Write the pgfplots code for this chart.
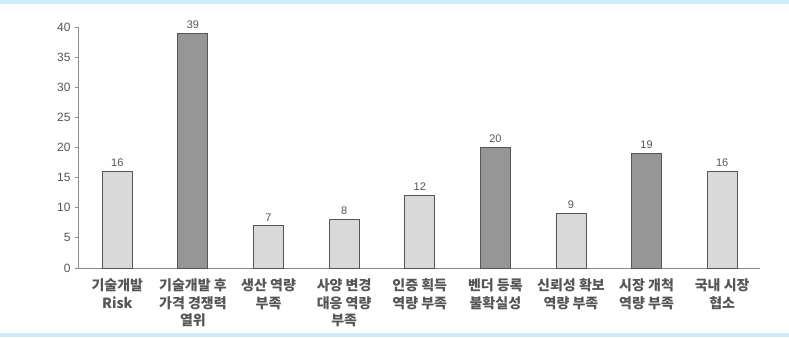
\documentclass[border=0pt]{standalone}
\usepackage{pgfplots}
\pgfplotsset{compat=1.18}
\usepackage{fontspec}
\setmainfont{Liberation Sans}
\newfontfamily\kr{Noto Sans CJK KR}
\definecolor{lightbar}{HTML}{D9D9D9}
\definecolor{darkbar}{HTML}{969696}
\definecolor{edge}{HTML}{555555}
\definecolor{band}{HTML}{CCEEFB}
\definecolor{txt}{HTML}{555555}
\definecolor{axisc}{HTML}{8C8C8C}
\pgfkeys{/pgf/number format/assume math mode=true}
\begin{document}
\begin{tikzpicture}
\useasboundingbox (-78pt,-69pt) rectangle (711pt,268pt);
\fill[band] (-78pt,264pt) rectangle (711pt,268pt);
\fill[band] (-78pt,-69pt) rectangle (711pt,-65pt);
\begin{axis}[
  at={(0pt,0pt)}, anchor=south west,
  scale only axis, width=682pt, height=241pt,
  xmin=-0.52, xmax=8.5, ymin=0, ymax=40,
  axis lines=left, axis line style={-, axisc, line width=0.9pt},
  ytick={0,5,...,40},
  ytick style={axisc, line width=0.8pt},
  tick align=outside, major tick length=3pt,
  xtick={0,...,8},
  xtick style={draw=none},
  xticklabels={{기술개발\\Risk},{기술개발 후\\가격 경쟁력\\열위},{생산 역량\\부족},{사양 변경\\대응 역량\\부족},{인증 획득\\역량 부족},{벤더 등록\\불확실성},{신뢰성 확보\\역량 부족},{시장 개척\\역량 부족},{국내 시장\\협소}},
  xticklabel style={align=center, font=\kr\bfseries\fontsize{14}{17.8}\selectfont, text=txt, anchor=north, yshift=-4pt},
  yticklabel style={font=\fontsize{12}{14}\selectfont, text=txt, xshift=-1pt},
  ybar, bar width=30pt, bar shift=0pt,
  nodes near coords,
  every node near coord/.append style={font=\fontsize{11}{13}\selectfont, text=txt, yshift=1pt},
  clip=false,
]
\addplot[fill=lightbar, draw=edge, line width=0.9pt] coordinates {(0,16) (2,7) (3,8) (4,12) (6,9) (8,16)};
\addplot[fill=darkbar, draw=edge, line width=0.9pt] coordinates {(1,39) (5,20) (7,19)};
\end{axis}
\end{tikzpicture}
\end{document}
